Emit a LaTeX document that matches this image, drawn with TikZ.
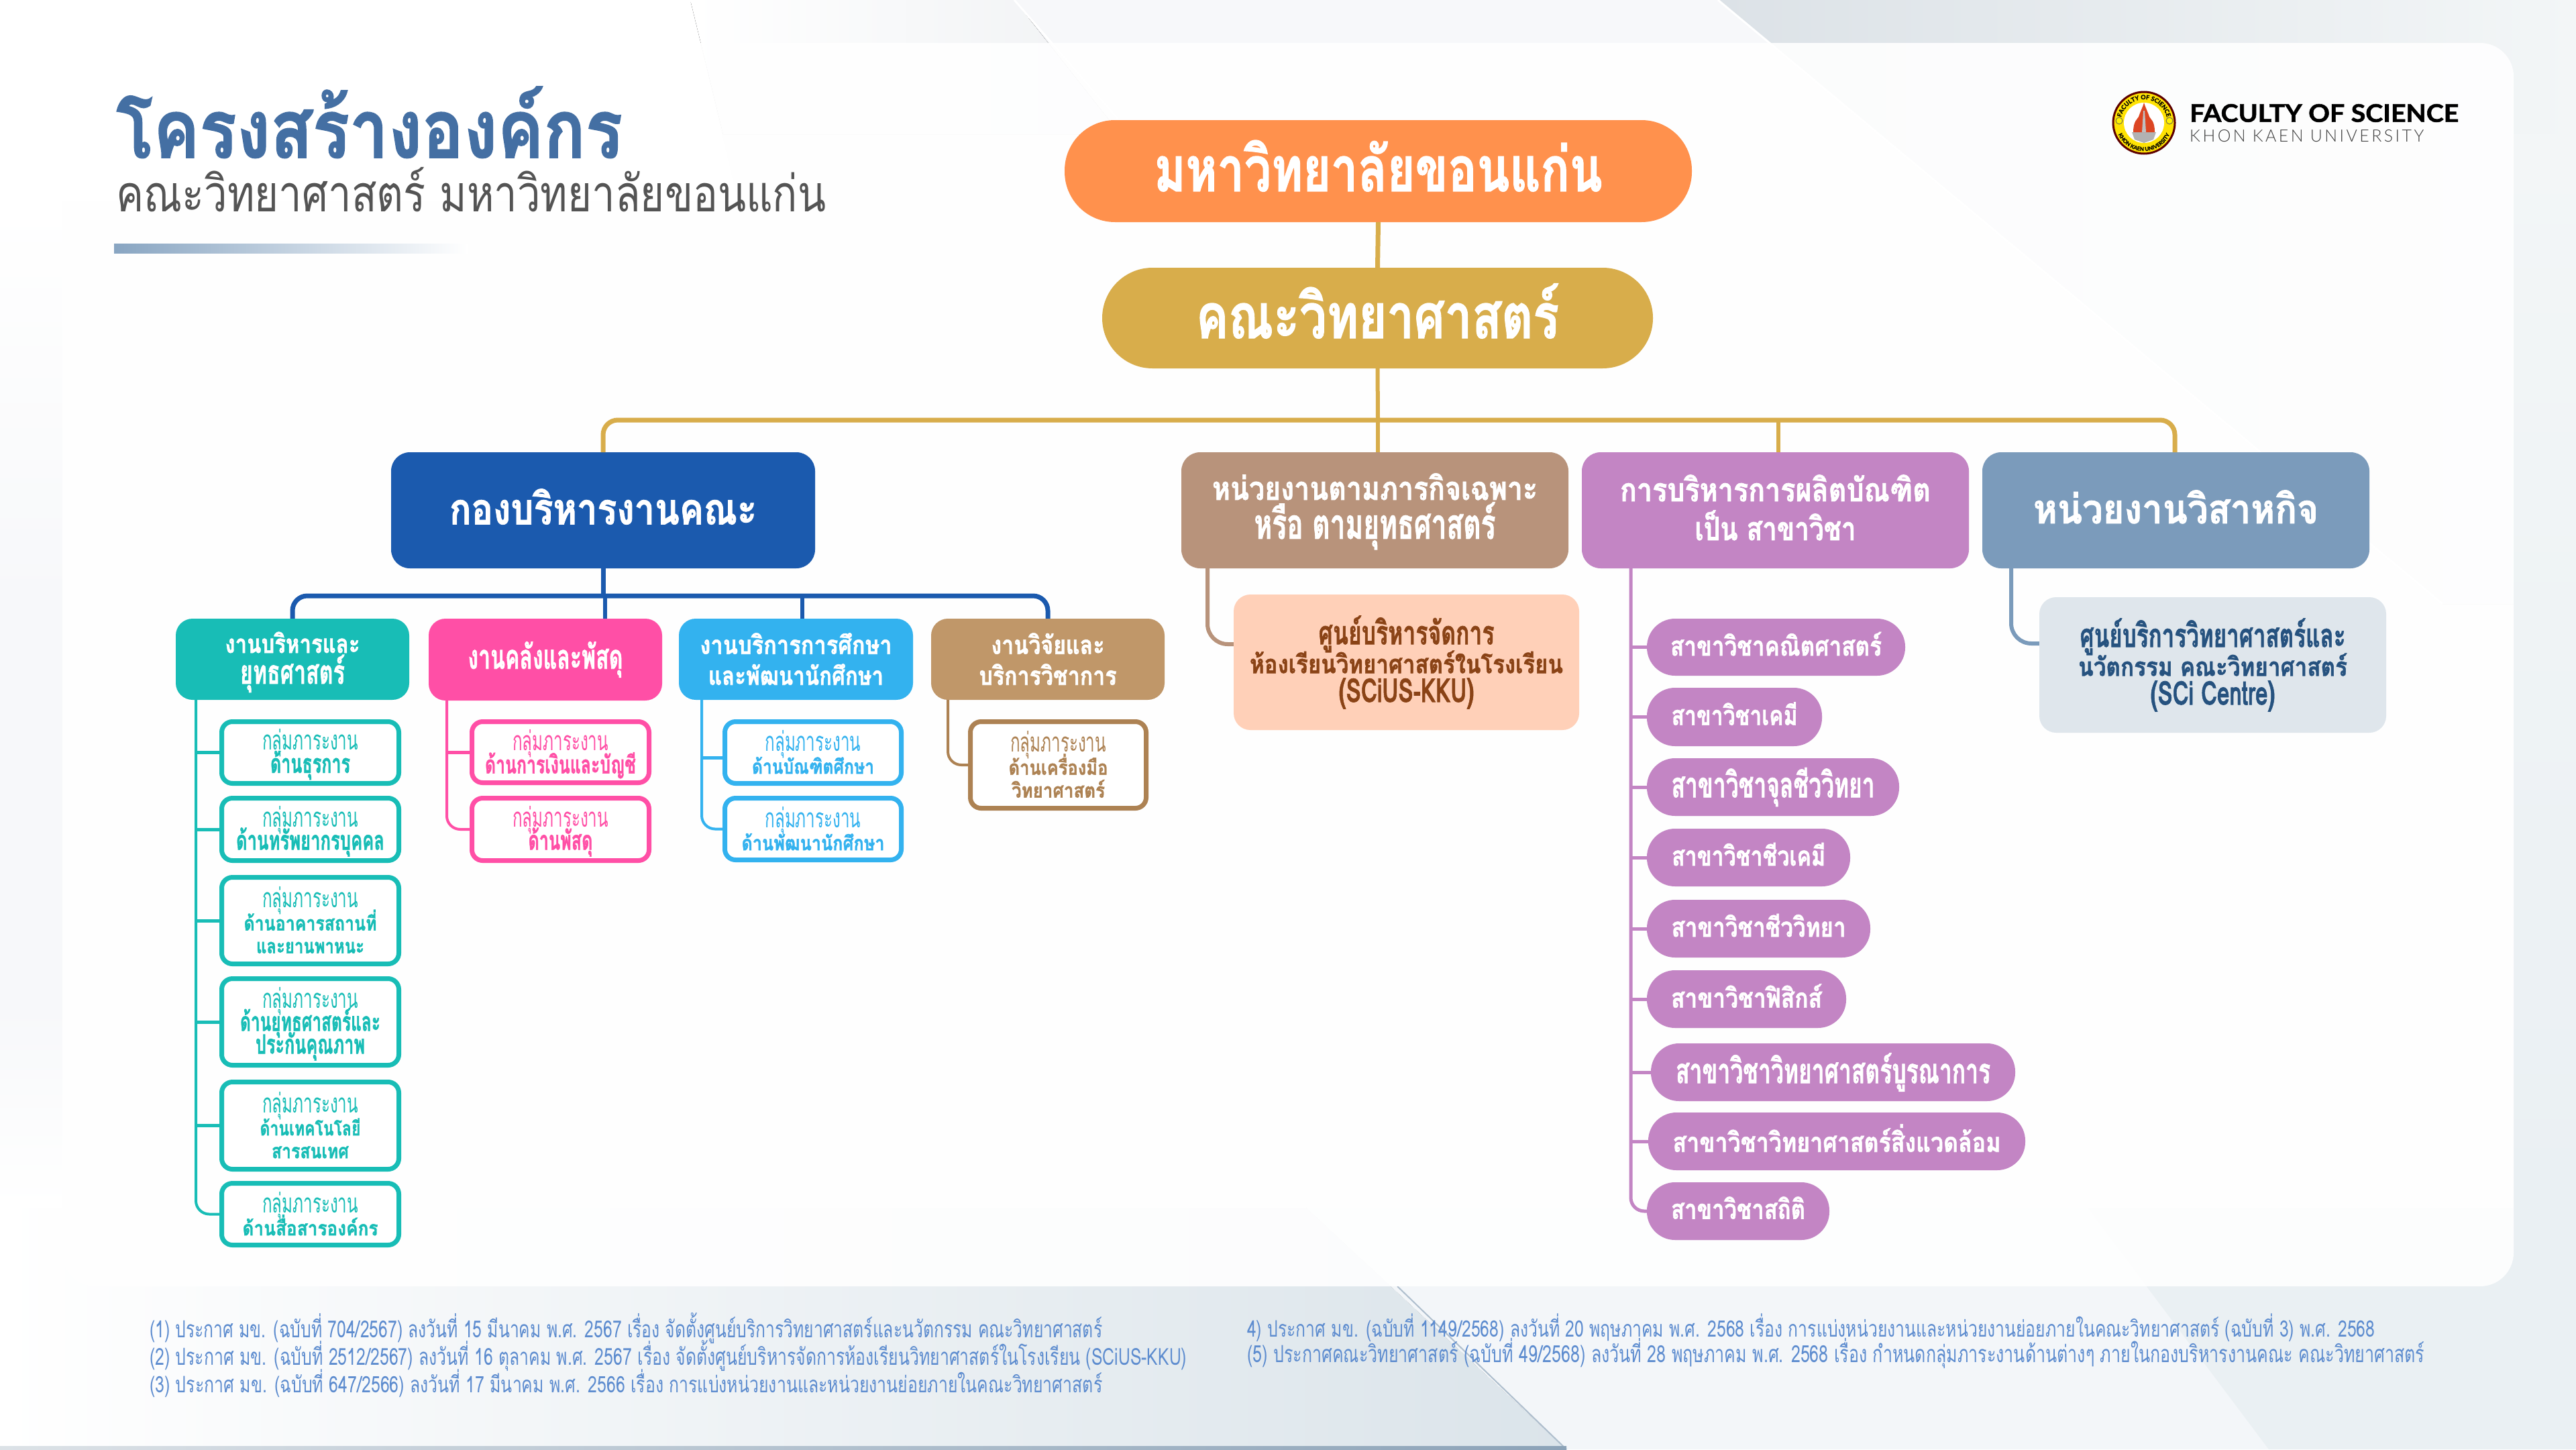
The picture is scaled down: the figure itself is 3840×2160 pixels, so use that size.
\documentclass[tikz,border=0pt]{standalone}
\usepackage{fontspec}
\usepackage{graphicx}
\setmainfont{Loma}[Script=Thai]
\newfontfamily\heavyfont{Loma}[Script=Thai,BoldFeatures={FakeBold=1.5}]
\newfontfamily\latofont{Lato}[BoldFeatures={FakeBold=1.5}]
\newfontfamily\latolite{Lato Light}[LetterSpace=14]
\usetikzlibrary{decorations.text}
\definecolor{cOrange}{HTML}{FF914D}
\definecolor{cGold}{HTML}{D8AD4B}
\definecolor{cBlue}{HTML}{1B5AAE}
\definecolor{cTan}{HTML}{B8937B}
\definecolor{cPurple}{HTML}{C385C4}
\definecolor{cSlate}{HTML}{7B9BBB}
\definecolor{cTeal}{HTML}{18BDB6}
\definecolor{cPink}{HTML}{FF4FA6}
\definecolor{cSky}{HTML}{33B2EF}
\definecolor{cBrown}{HTML}{C09769}
\definecolor{cBrownD}{HTML}{AD8253}
\definecolor{cPeach}{HTML}{FFD0B8}
\definecolor{cPeachT}{HTML}{8A4316}
\definecolor{cMist}{HTML}{DFE6EC}
\definecolor{cNavy}{HTML}{26527F}
\definecolor{cTitle}{HTML}{446FA3}
\definecolor{cNote}{HTML}{5D8CCF}
\definecolor{bgA}{HTML}{F7F8FA}
\definecolor{bgB}{HTML}{F0F2F4}
\definecolor{bgC}{HTML}{DCE2E7}
\definecolor{bgD}{HTML}{F3F6F7}
\definecolor{bgE}{HTML}{DBE4EA}
\definecolor{bgF}{HTML}{F3F6F9}
\definecolor{bgG}{HTML}{EAF0F3}
\definecolor{bgH}{HTML}{8CA3B8}
\newcommand\rhi{1.15em}
\newcommand\fs[2]{\fontsize{#1pt}{#2pt}\selectfont\lineskiplimit=-1000pt }
\newcommand\fn[2]{\resizebox{#1pt}{\totalheight}{#2}}
\newcommand\fw[2]{\rule[-.25em]{0pt}{\rhi}\fn{#1}{#2}}
\newcommand\fb[2]{\fw{#1}{\heavyfont\bfseries #2}}
\newcommand\bx[6]{\node[#1,minimum width={(#4-#2)*1pt},minimum height={(#5-#3)*1pt}] (#6) at ({(#2+#4)/2},{(#3+#5)/2})}
\newcommand\lf[6]{\node[#1,minimum width={(#4-#2-7)*1pt},minimum height={(#5-#3-7)*1pt}] (#6) at ({(#2+#4)/2},{(#3+#5)/2})}
\tikzset{
  solidbox/.style={fill=#1,inner sep=0pt,align=center,text=white,rounded corners=28pt},
  pillbig/.style={fill=#1,inner sep=0pt,align=center,text=white,rounded corners=75pt,font={\fs{92}{100}}},
  headbox/.style={solidbox=#1,font={\fs{48}{58}}},
  secbox/.style={solidbox=#1,rounded corners=25pt,font={\renewcommand\rhi{1.3em}\fs{38}{46}}},
  leafbox/.style={draw=#1,line width=7pt,fill=white,rounded corners=16pt,inner sep=0pt,align=center,text=#1,font={\renewcommand\rhi{1.48em}\fs{30}{34}}},
  coursepill/.style={fill=cPurple,inner sep=0pt,align=center,text=white,rounded corners=42pt,font={\renewcommand\rhi{1.05em}\fs{40}{44}}},
  unitbox/.style={fill=#1,inner sep=0pt,align=center,rounded corners=25pt,font={\fs{38}{43}}},
  link/.style={draw=#1,line width=5pt},
  noteline/.style={anchor=west,inner sep=0pt,text=cNote,font={\fs{28}{30}}}
}
\begin{document}
\begin{tikzpicture}[x=1pt,y=-1pt]
\useasboundingbox (0,0) rectangle (3840,2160);
% ---- background
\fill[bgA] (0,0) rectangle (3840,2160);
\fill[white] (0,0) -- (1029,0) -- (1100,300) -- (0,300) -- cycle;
\fill[left color=white,right color=bgB] (1029,0) -- (1512,0) -- (1670,200) -- (1078,200) -- cycle;
\fill[left color=bgC,right color=bgD] (2561,0) -- (3840,0) -- (3840,900) -- (3641,900) -- cycle;
\draw[white,line width=3pt] (1512,0) -- (1667,178);
\draw[white,line width=3pt] (2561,0) -- (3641,900);
\fill[left color=white,right color=bgE] (0,1800) -- (1947,1800) -- (2335,2160) -- (0,2160) -- cycle;
\fill[bgF] (1947,1800) -- (3112,1800) -- (3382,2160) -- (2335,2160) -- cycle;
\fill[bgG] (3112,1800) -- (3840,1800) -- (3840,2160) -- (3382,2160) -- cycle;
\draw[bgH!70!white,line width=2pt] (2083,1917) -- (2335,2160);
\fill[left color=bgC,right color=bgH] (0,2155) rectangle (2335,2160);
\fill[top color=bgD,bottom color=bgG] (3747,200) rectangle (3840,1800);
\fill[top color=white,bottom color=bgA] (0,300) rectangle (93,900);
\fill[top color=bgA,bottom color=white] (0,1500) rectangle (93,1800);
% card
\fill[white,opacity=.9,rounded corners=50pt] (93,64) rectangle (3747,1917);
\fill[left color=cSlate!90!white,right color=white] (170,363) rectangle (697,377);
% ---- titles
\node[anchor=base west,inner sep=0pt,text=cTitle,font={\fs{120}{130}}] (ttl) at (173,235) {\fn{755}{\heavyfont\bfseries โครงสร้างองค์กร}};
\node[anchor=base west,inner sep=0pt,text=black!67,font={\fs{75}{85}}] (sub) at (173,315) {\fn{1058}{คณะวิทยาศาสตร์ มหาวิทยาลัยขอนแก่น}};
% ---- logo
\fill[yellow!85!orange,draw=black!40!red!60!black,line width=3pt] (3196,183) circle (46);
\fill[white] (3196,183) circle (30);
\fill[black!30!white] (3178,197) -- (3214,197) -- (3210,208) -- (3196,213) -- (3182,208) -- cycle;
\fill[red!45!brown] (3180,197) .. controls (3180,180) and (3186,178) .. (3188,174) .. controls (3191,165) and (3194,160) .. (3196,153) .. controls (3198,160) and (3201,165) .. (3204,174) .. controls (3206,178) and (3212,180) .. (3212,197) -- cycle;
\fill[black!25!white] (3193,197) -- (3195,165) -- (3197,165) -- (3199,197) -- cycle;
\draw[black!60!yellow,line width=1pt,fill=yellow] (3159,180) circle (5);
\draw[black!60!yellow,line width=1pt,fill=yellow] (3234,180) circle (5);
\begin{scope}[shift={(3196,183)},x=1pt,y=1pt]
\path[decorate,decoration={text along path,text align=center,text={|\latofont\fontsize{9}{9}\selectfont\bfseries|FACULTY OF SCIENCE}}] (165:35) arc (165:15:35);
\path[decorate,decoration={text along path,text align=center,text={|\latofont\fontsize{8}{8}\selectfont\bfseries|KHON KAEN UNIVERSITY}}] (197:42) arc (197:343:42);
\end{scope}
\node[anchor=west,inner sep=0pt,font={\latofont\fs{36}{40}}] (fos) at (3264,170) {\fw{401}{\latofont\bfseries FACULTY OF SCIENCE}};
\node[anchor=west,inner sep=0pt,text=black!75,font={\latolite\fs{25}{30}}] (kku) at (3264,203) {\fw{349}{KHON KAEN UNIVERSITY}};
% ---- top
\bx{pillbig=cOrange}{1587}{179}{2522}{331}{uni}{\fb{668}{มหาวิทยาลัยขอนแก่น}};
\bx{pillbig=cGold}{1643}{399}{2464}{549}{fac}{\fb{541}{คณะวิทยาศาสตร์}};
% ---- level 2
\bx{solidbox=cBlue,font={\fs{64}{70}}}{583}{674}{1215}{847}{office}{\fb{458}{กองบริหารงานคณะ}};
\bx{headbox=cTan}{1761}{674}{2338}{847}{mission}{\fb{485}{หน่วยงานตามภารกิจเฉพาะ}\\\fb{360}{หรือ ตามยุทธศาสตร์}};
\bx{headbox=cPurple}{2358}{674}{2935}{847}{prog}{\fb{463}{การบริหารการผลิตบัณฑิต}\\\fb{240}{เป็น สาขาวิชา}};
\bx{solidbox=cSlate,font={\fs{60}{64}}}{2955}{674}{3532}{847}{biz}{\fb{425}{หน่วยงานวิสาหกิจ}};
% ---- level 3
\bx{secbox=cTeal}{262}{922}{610}{1043}{secA}{\fb{201}{งานบริหารและ}\\\fb{156}{ยุทธศาสตร์}};
\bx{secbox=cPink}{639}{922}{987}{1044}{secB}{\fb{231}{งานคลังและพัสดุ}};
\bx{secbox=cSky}{1012}{922}{1361}{1043}{secC}{\fb{286}{งานบริการการศึกษา}\\\fb{261}{และพัฒนานักศึกษา}};
\bx{secbox=cBrown}{1388}{922}{1736}{1043}{secD}{\fb{169}{งานวิจัยและ}\\\fb{205}{บริการวิชาการ}};
% ---- teal leaves
\lf{leafbox=cTeal}{327}{1072}{598}{1171}{a1}{\fw{143}{กลุ่มภาระงาน}\\\fb{119}{ด้านธุรการ}};
\lf{leafbox=cTeal}{327}{1186}{598}{1286}{a2}{\fw{143}{กลุ่มภาระงาน}\\\fb{221}{ด้านทรัพยากรบุคคล}};
\lf{leafbox=cTeal}{327}{1304}{598}{1440}{a3}{\fw{143}{กลุ่มภาระงาน}\\\fb{198}{ด้านอาคารสถานที่}\\\fb{161}{และยานพาหนะ}};
\lf{leafbox=cTeal}{327}{1455}{598}{1591}{a4}{\fw{143}{กลุ่มภาระงาน}\\\fb{209}{ด้านยุทธศาสตร์และ}\\\fb{163}{ประกันคุณภาพ}};
\lf{leafbox=cTeal}{327}{1609}{598}{1746}{a5}{\fw{143}{กลุ่มภาระงาน}\\\fb{150}{ด้านเทคโนโลยี}\\\fb{115}{สารสนเทศ}};
\lf{leafbox=cTeal}{327}{1760}{598}{1859}{a6}{\fw{143}{กลุ่มภาระงาน}\\\fb{202}{ด้านสื่อสารองค์กร}};
% ---- pink leaves
\lf{leafbox=cPink}{700}{1072}{971}{1170}{b1}{\fw{143}{กลุ่มภาระงาน}\\\fb{225}{ด้านการเงินและบัญชี}};
\lf{leafbox=cPink}{700}{1186}{971}{1286}{b2}{\fw{143}{กลุ่มภาระงาน}\\\fb{96}{ด้านพัสดุ}};
% ---- sky leaves
\lf{leafbox=cSky}{1077}{1072}{1347}{1171}{c1}{\fw{143}{กลุ่มภาระงาน}\\\fb{182}{ด้านบัณฑิตศึกษา}};
\lf{leafbox=cSky}{1077}{1186}{1347}{1285}{c2}{\fw{143}{กลุ่มภาระงาน}\\\fb{213}{ด้านพัฒนานักศึกษา}};
% ---- brown leaf
\lf{leafbox=cBrownD}{1443}{1072}{1712}{1208}{d1}{\fw{143}{กลุ่มภาระงาน}\\\fb{148}{ด้านเครื่องมือ}\\\fb{139}{วิทยาศาสตร์}};
% ---- units
\bx{unitbox=cPeach,text=cPeachT}{1839}{886}{2354}{1088}{peach}{\fb{262}{ศูนย์บริหารจัดการ}\\\fb{467}{ห้องเรียนวิทยาศาสตร์ในโรงเรียน}\\\fb{202}{(SCiUS-KKU)}};
\bx{unitbox=cMist,text=cNavy}{3040}{890}{3557}{1092}{mist}{\fb{396}{ศูนย์บริการวิทยาศาสตร์และ}\\\fb{401}{นวัตกรรม คณะวิทยาศาสตร์}\\\fb{186}{(SCi Centre)}};
% ---- course pills
\bx{coursepill}{2455}{922}{2840}{1007}{p1}{\fb{315}{สาขาวิชาคณิตศาสตร์}};
\bx{coursepill}{2455}{1025}{2716}{1112}{p2}{\fb{188}{สาขาวิชาเคมี}};
\bx{coursepill}{2455}{1130}{2831}{1216}{p3}{\fb{303}{สาขาวิชาจุลชีววิทยา}};
\bx{coursepill}{2455}{1235}{2758}{1321}{p4}{\fb{229}{สาขาวิชาชีวเคมี}};
\bx{coursepill}{2455}{1341}{2788}{1427}{p5}{\fb{260}{สาขาวิชาชีววิทยา}};
\bx{coursepill}{2455}{1446}{2752}{1532}{p6}{\fb{225}{สาขาวิชาฟิสิกส์}};
\bx{coursepill}{2461}{1555}{3004}{1641}{p7}{\fb{469}{สาขาวิชาวิทยาศาสตร์บูรณาการ}};
\bx{coursepill}{2457}{1658}{3019}{1744}{p8}{\fb{489}{สาขาวิชาวิทยาศาสตร์สิ่งแวดล้อม}};
\bx{coursepill}{2455}{1762}{2727}{1848}{p9}{\fb{200}{สาขาวิชาสถิติ}};
% ---- connector anchors
\coordinate (gbus) at (2054,626);
\coordinate (gB) at (2651,626);
\coordinate (bA) at (436,888);
\coordinate (bB) at (902,888);
\coordinate (bC) at (1196,888);
\coordinate (bD) at (1562,888);
\coordinate (sA) at (292,1043);
\coordinate (sB) at (666,1044);
\coordinate (sC) at (1046,1043);
\coordinate (sD) at (1413,1043);
\coordinate (sE) at (1800,847);
\coordinate (sF) at (2431,847);
\coordinate (sG) at (2998,847);
\coordinate (gL) at (899,674);
\coordinate (gR) at (3242,674);
% ---- connectors
\draw[link=cGold,line width=7pt] (uni.south) -- (fac.north);
\draw[link=cGold,line width=7pt,rounded corners=22pt] (gL) |- (gbus) -| (gR);
\draw[link=cGold,line width=6pt] (fac.south) -- (gbus);
\draw[link=cGold,line width=6pt] (gbus) -- (gbus |- mission.north);
\draw[link=cGold,line width=6pt] (gB) -- (gB |- prog.north);
\draw[link=cBlue,line width=7pt] (office.south) -- (office.south |- bB);
\draw[link=cBlue,line width=7pt,rounded corners=22pt] (bA |- secA.north) |- (bB) -| (bD |- secD.north);
\draw[link=cBlue,line width=6pt] (bB) -- (bB |- secB.north);
\draw[link=cBlue,line width=6pt] (bC) -- (bC |- secC.north);
\draw[link=cTeal,line width=4pt,rounded corners=20pt] (sA) |- (a6.west);
\foreach \n in {a1,a2,a3,a4,a5} \draw[link=cTeal] (sA |- \n.west) -- (\n.west);
\draw[link=cPink,line width=4pt,rounded corners=20pt] (sB) |- (b2.west);
\draw[link=cPink] (sB |- b1.west) -- (b1.west);
\draw[link=cSky,line width=4pt,rounded corners=20pt] (sC) |- (c2.west);
\draw[link=cSky] (sC |- c1.west) ++(0,8) -- ([yshift=-8pt]c1.west);
\draw[link=cBrownD,line width=4pt,rounded corners=20pt] (sD) |- (d1.west);
\draw[link=cTan,line width=6pt,rounded corners=30pt] (sE) |- ([yshift=27pt]peach.west);
\draw[link=cPurple,line width=5pt,rounded corners=20pt] (sF) |- (p9.west);
\foreach \n in {p1,p2,p3,p4,p5,p6,p7,p8} \draw[link=cPurple] (sF |- \n.west) -- (\n.west);
\draw[link=cSlate,line width=6pt,rounded corners=30pt] (sG) |- ([yshift=32pt]mist.west);
% ---- footnotes
\node[noteline] (n1) at (223,1980) {\fw{1420}{(1)  ประกาศ มข. (ฉบับที่ 704/2567) ลงวันที่ 15 มีนาคม พ.ศ. 2567 เรื่อง จัดตั้งศูนย์บริการวิทยาศาสตร์และนวัตกรรม คณะวิทยาศาสตร์}};
\node[noteline] (n2) at (223,2021) {\fw{1546}{(2)  ประกาศ มข. (ฉบับที่ 2512/2567) ลงวันที่ 16 ตุลาคม พ.ศ. 2567 เรื่อง จัดตั้งศูนย์บริหารจัดการห้องเรียนวิทยาศาสตร์ในโรงเรียน (SCiUS-KKU)}};
\node[noteline] (n3) at (223,2062) {\fw{1420}{(3)  ประกาศ มข. (ฉบับที่ 647/2566) ลงวันที่ 17 มีนาคม พ.ศ. 2566 เรื่อง การแบ่งหน่วยงานและหน่วยงานย่อยภายในคณะวิทยาศาสตร์}};
\node[noteline] (n4) at (1859,1979) {\fw{1681}{4) ประกาศ มข. (ฉบับที่ 1149/2568) ลงวันที่ 20 พฤษภาคม พ.ศ. 2568 เรื่อง การแบ่งหน่วยงานและหน่วยงานย่อยภายในคณะวิทยาศาสตร์ (ฉบับที่ 3) พ.ศ. 2568}};
\node[noteline] (n5) at (1859,2017) {\fw{1755}{(5) ประกาศคณะวิทยาศาสตร์ (ฉบับที่ 49/2568) ลงวันที่ 28 พฤษภาคม พ.ศ. 2568 เรื่อง กำหนดกลุ่มภาระงานด้านต่างๆ ภายในกองบริหารงานคณะ คณะวิทยาศาสตร์}};
\end{tikzpicture}
\end{document}
